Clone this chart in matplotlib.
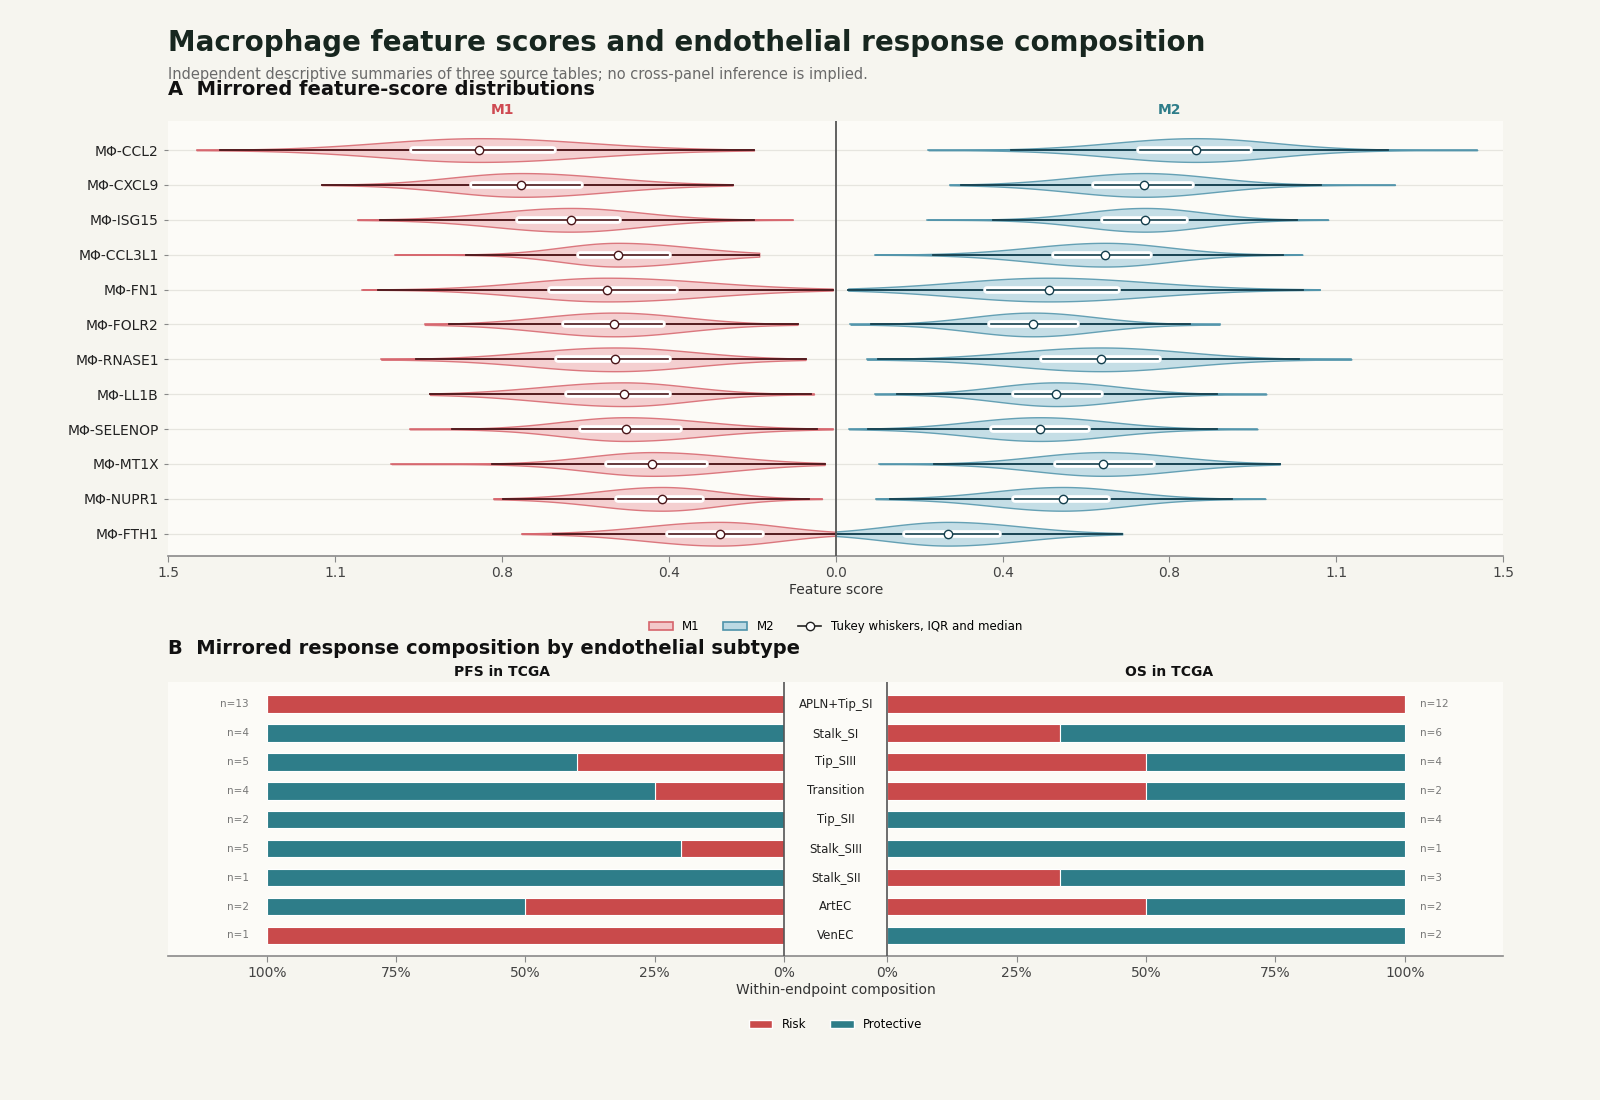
import numpy as np
import matplotlib
matplotlib.use("Agg")
import matplotlib.pyplot as plt
from matplotlib.patches import Patch
from matplotlib.lines import Line2D
from matplotlib.ticker import FixedLocator, FuncFormatter

# ---------------- data ----------------
features = ["MΦ-CCL2", "MΦ-CXCL9", "MΦ-ISG15", "MΦ-CCL3L1", "MΦ-FN1", "MΦ-FOLR2",
            "MΦ-RNASE1", "MΦ-LL1B", "MΦ-SELENOP", "MΦ-MT1X", "MΦ-NUPR1", "MΦ-FTH1"]

m1_min = [0.184, 0.232, 0.097, 0.172, 0.007, 0.086, 0.068, 0.049, 0.007, 0.025, 0.031, 0.000]
m1_wlo = [0.184, 0.232, 0.184, 0.172, 0.007, 0.086, 0.068, 0.056, 0.042, 0.025, 0.060, 0.000]
m1_q1 = [0.636, 0.574, 0.489, 0.377, 0.361, 0.391, 0.376, 0.376, 0.352, 0.294, 0.303, 0.168]
m1_med = [0.801, 0.707, 0.596, 0.490, 0.515, 0.498, 0.497, 0.477, 0.472, 0.412, 0.390, 0.261]
m1_q3 = [0.950, 0.815, 0.712, 0.576, 0.639, 0.609, 0.625, 0.602, 0.570, 0.511, 0.490, 0.374]
m1_whi = [1.385, 1.155, 1.024, 0.832, 1.030, 0.870, 0.944, 0.912, 0.863, 0.773, 0.748, 0.636]
m1_max = [1.437, 1.155, 1.075, 0.991, 1.064, 0.924, 1.022, 0.912, 0.958, 0.999, 0.769, 0.706]

m2_min = [0.208, 0.256, 0.206, 0.088, 0.028, 0.033, 0.070, 0.088, 0.030, 0.098, 0.090, 0.000]
m2_wlo = [0.394, 0.281, 0.353, 0.218, 0.028, 0.080, 0.095, 0.138, 0.072, 0.221, 0.123, 0.000]
m2_q1 = [0.684, 0.582, 0.602, 0.493, 0.339, 0.349, 0.465, 0.403, 0.353, 0.497, 0.403, 0.159]
m2_med = [0.809, 0.693, 0.695, 0.606, 0.479, 0.443, 0.596, 0.496, 0.459, 0.601, 0.510, 0.253]
m2_q3 = [0.928, 0.799, 0.785, 0.704, 0.632, 0.539, 0.724, 0.594, 0.565, 0.712, 0.609, 0.364]
m2_whi = [1.242, 1.090, 1.036, 1.005, 1.051, 0.796, 1.042, 0.858, 0.858, 0.998, 0.891, 0.644]
m2_max = [1.442, 1.257, 1.107, 1.049, 1.088, 0.863, 1.159, 0.968, 0.948, 0.998, 0.966, 0.644]

subtypes = ["APLN+Tip_SI", "Stalk_SI", "Tip_SIII", "Transition", "Tip_SII",
            "Stalk_SIII", "Stalk_SII", "ArtEC", "VenEC"]
pfs_risk = [13, 0, 2, 1, 0, 1, 0, 1, 1]
pfs_prot = [0, 4, 3, 3, 2, 4, 1, 1, 0]
os_risk = [12, 2, 2, 1, 0, 0, 1, 1, 0]
os_prot = [0, 4, 2, 1, 4, 1, 2, 1, 2]

score_ticks = [-1.5, -1.125, -0.75, -0.375, 0.0, 0.375, 0.75, 1.125, 1.5]
pct_labels = ["100%", "75%", "50%", "25%", "0%"]

# ---------------- style ----------------
FIG_BG = "#f6f5ef"
AX_BG = "#fcfbf7"
M1_FILL = "#f3c8ca"
M1_EDGE = "#d6646c"
M1_DARK = "#4a1619"
M1_HEAD = "#cf4a52"
M2_FILL = "#bcd9e3"
M2_EDGE = "#4f93aa"
M2_DARK = "#143f4d"
M2_HEAD = "#2e7d89"
RISK = "#c94a4b"
PROT = "#2e7d89"
TXT = "#222222"

plt.rcParams['font.family'] = ['DejaVu Sans']

fig = plt.figure(figsize=(16, 11), dpi=100, facecolor=FIG_BG)

# ---------------- header ----------------
fig.text(0.1053, 0.961, "Macrophage feature scores and endothelial response composition",
         fontsize=20, fontweight="bold", color="#17261f", va="center", ha="left")
fig.text(0.1053, 0.9323, "Independent descriptive summaries of three source tables; no cross-panel inference is implied.",
         fontsize=10.5, color="#6a6a6a", va="center", ha="left")
fig.text(0.1053, 0.9184, "A  Mirrored feature-score distributions",
         fontsize=14, fontweight="bold", color="#111111", va="center", ha="left")

# ---------------- panel A ----------------
axA = fig.add_axes([0.1053, 0.4945, 0.8341, 0.3951])
axA.set_facecolor(AX_BG)
n = len(features)
ypos = np.arange(n)
for y in ypos:
    axA.axhline(y, color="#e6e5df", lw=0.9, zorder=0)


def split_density(v, q1, med, q3):
    sl = max(med - q1, 1e-3) / 0.6745
    sr = max(q3 - med, 1e-3) / 0.6745
    s = np.where(v < med, sl, sr)
    return np.exp(-0.5 * ((v - med) / s) ** 2)


def draw_side(sign, mn, wl, q1, md, q3, wh, mx, fill, edge, dark):
    for i in range(n):
        y = ypos[i]
        v = np.linspace(mn[i], mx[i], 300)
        d = split_density(v, q1[i], md[i], q3[i])
        w = 0.34 * d / d.max()
        x = sign * v
        axA.fill_between(x, y - w, y + w, facecolor=fill, edgecolor=edge, lw=1.0,
                         alpha=0.85, zorder=2)
        axA.plot([sign * mn[i], sign * mx[i]], [y, y], color=edge, lw=1.1, zorder=3)
        axA.plot([sign * wl[i], sign * wh[i]], [y, y], color=dark, lw=1.3, zorder=4)
        axA.plot([sign * q1[i], sign * q3[i]], [y, y], color="white", lw=5.5,
                 solid_capstyle="round", zorder=5)
        axA.plot([sign * q1[i], sign * q3[i]], [y, y], color=dark, lw=1.2, zorder=6)
        axA.plot([sign * md[i]], [y], marker="o", ms=6, mfc="white", mec=dark,
                 mew=1.0, zorder=7, ls="none")


draw_side(-1, m1_min, m1_wlo, m1_q1, m1_med, m1_q3, m1_whi, m1_max, M1_FILL, M1_EDGE, M1_DARK)
draw_side(1, m2_min, m2_wlo, m2_q1, m2_med, m2_q3, m2_whi, m2_max, M2_FILL, M2_EDGE, M2_DARK)

axA.axvline(0, color="#555555", lw=1.3, zorder=8)
axA.set_xlim(-1.5, 1.5)
axA.set_ylim(n - 1 + 0.64, -0.82)
axA.set_yticks(ypos)
axA.set_yticklabels(features, fontsize=10, color=TXT)
axA.xaxis.set_major_locator(FixedLocator(score_ticks))
axA.xaxis.set_major_formatter(FuncFormatter(lambda v, p: f"{abs(v):.1f}"))
axA.tick_params(axis="x", labelsize=10, colors="#444444", length=4, color="#888888")
axA.tick_params(axis="y", length=3, color="#888888", pad=4)
for sp in ["top", "right", "left"]:
    axA.spines[sp].set_visible(False)
axA.spines["bottom"].set_color("#8a8a8a")
axA.spines["bottom"].set_linewidth(1.2)
axA.set_xlabel("Feature score", fontsize=10, color="#333333", labelpad=2)
axA.text(0.25, 1.027, "M1", transform=axA.transAxes, ha="center", va="center",
         fontsize=10, fontweight="bold", color=M1_HEAD)
axA.text(0.75, 1.027, "M2", transform=axA.transAxes, ha="center", va="center",
         fontsize=10, fontweight="bold", color=M2_HEAD)

legA = [Patch(facecolor=M1_FILL, edgecolor=M1_EDGE, lw=1.2, label="M1"),
        Patch(facecolor=M2_FILL, edgecolor=M2_EDGE, lw=1.2, label="M2"),
        Line2D([0], [0], color="#222222", lw=1.2, marker="o", ms=6, mfc="white",
               mec="#222222", label="Tukey whiskers, IQR and median")]
fig.legend(handles=legA, loc="center", bbox_to_anchor=(0.5223, 0.4304), ncol=3,
           frameon=False, fontsize=8.5, handlelength=2.0, columnspacing=2.0,
           handletextpad=0.8)

# ---------------- panel B ----------------
fig.text(0.1053, 0.41, "B  Mirrored response composition by endothelial subtype",
         fontsize=14, fontweight="bold", color="#111111", va="center", ha="left")

axB = fig.add_axes([0.1053, 0.1309, 0.8341, 0.2495])
axB.set_facecolor(AX_BG)
gap = 0.1
m = len(subtypes)
yb = np.arange(m)
pfs_tot = np.array(pfs_risk) + np.array(pfs_prot)
os_tot = np.array(os_risk) + np.array(os_prot)
pr = np.array(pfs_risk) / pfs_tot
pp = np.array(pfs_prot) / pfs_tot
orr = np.array(os_risk) / os_tot
op = np.array(os_prot) / os_tot
bh = 0.6
axB.barh(yb, -pr, left=-gap, height=bh, color=RISK, edgecolor="white", lw=0.8, zorder=2)
axB.barh(yb, -pp, left=-gap - pr, height=bh, color=PROT, edgecolor="white", lw=0.8, zorder=2)
axB.barh(yb, orr, left=gap, height=bh, color=RISK, edgecolor="white", lw=0.8, zorder=2)
axB.barh(yb, op, left=gap + orr, height=bh, color=PROT, edgecolor="white", lw=0.8, zorder=2)

for i in range(m):
    axB.text(0, yb[i], subtypes[i], ha="center", va="center", fontsize=8.5, color=TXT)
    axB.text(-gap - 1 - 0.035, yb[i], f"n={pfs_tot[i]}", ha="right", va="center",
             fontsize=7.5, color="#777777")
    axB.text(gap + 1 + 0.03, yb[i], f"n={os_tot[i]}", ha="left", va="center",
             fontsize=7.5, color="#777777")

axB.axvline(-gap, color="#555555", lw=1.2, zorder=3)
axB.axvline(gap, color="#555555", lw=1.2, zorder=3)
axB.set_xlim(-1.29, 1.29)
axB.set_ylim(m - 1 + 0.71, -0.78)
axB.set_yticks([])
left_ticks = [-gap - 1.0, -gap - 0.75, -gap - 0.5, -gap - 0.25, -gap]
right_ticks = [gap, gap + 0.25, gap + 0.5, gap + 0.75, gap + 1.0]
axB.set_xticks(left_ticks + right_ticks)
axB.set_xticklabels(pct_labels + pct_labels[::-1])
axB.tick_params(axis="x", labelsize=10, colors="#444444", length=4, color="#888888")
for sp in ["top", "right", "left"]:
    axB.spines[sp].set_visible(False)
axB.spines["bottom"].set_color("#8a8a8a")
axB.spines["bottom"].set_linewidth(1.2)
axB.set_xlabel("Within-endpoint composition", fontsize=10, color="#333333", labelpad=2)
axB.text(0.25, 1.035, "PFS in TCGA", transform=axB.transAxes, ha="center", va="center",
         fontsize=10, fontweight="bold", color="#111111")
axB.text(0.75, 1.035, "OS in TCGA", transform=axB.transAxes, ha="center", va="center",
         fontsize=10, fontweight="bold", color="#111111")

legB = [Patch(facecolor=RISK, edgecolor="white", label="Risk"),
        Patch(facecolor=PROT, edgecolor="white", label="Protective")]
fig.legend(handles=legB, loc="center", bbox_to_anchor=(0.5223, 0.0686), ncol=2,
           frameon=False, fontsize=8.5, handlelength=2.0, columnspacing=2.0,
           handletextpad=0.8)

fig.savefig("out.png", dpi=100, facecolor=FIG_BG)
